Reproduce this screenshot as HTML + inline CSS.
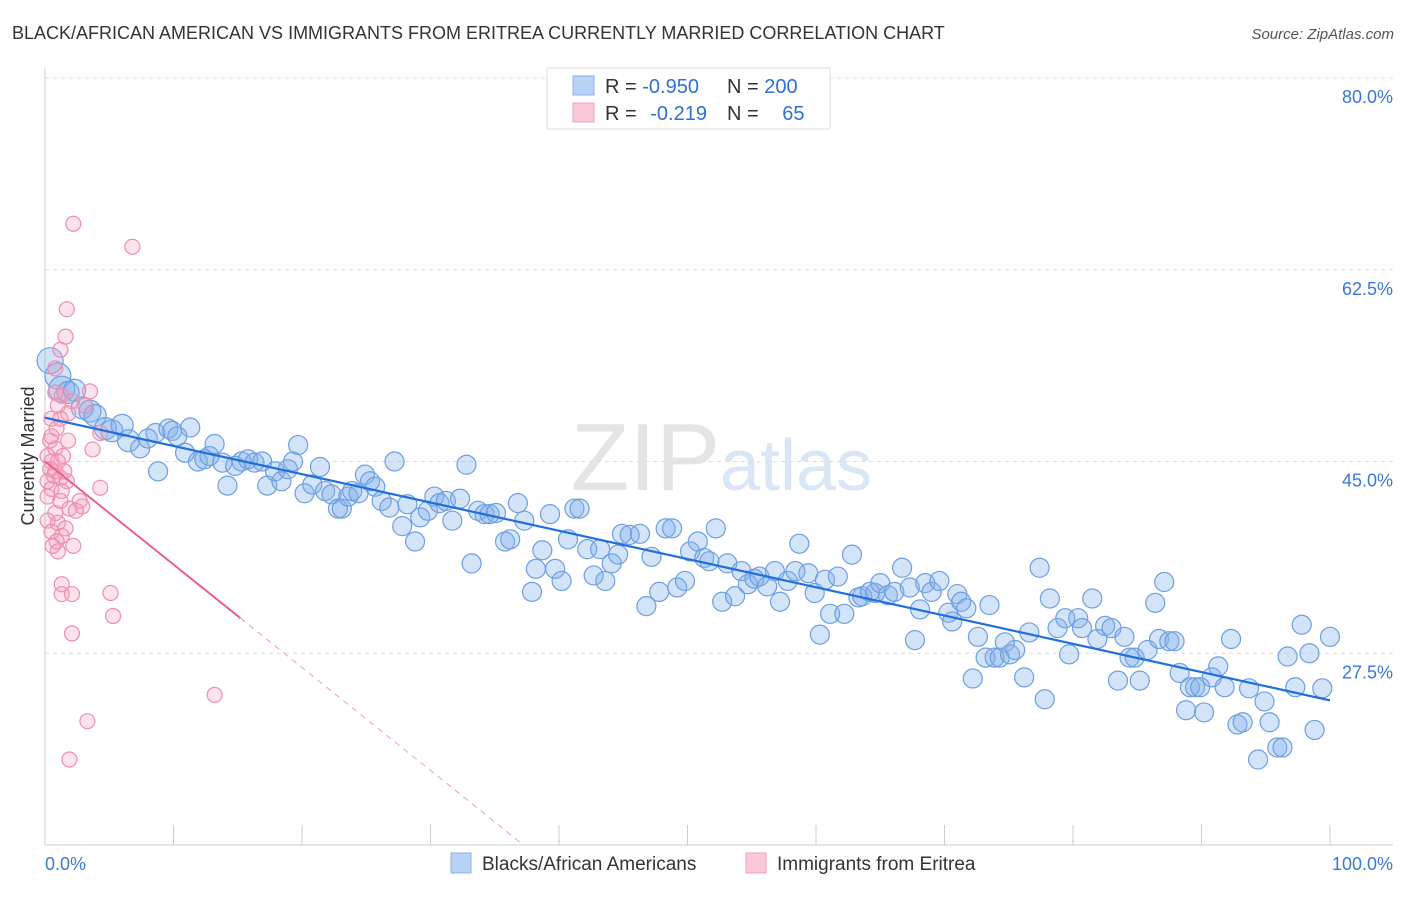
<!DOCTYPE html>
<html><head><meta charset="utf-8"><style>
body{margin:0;background:#fff;font-family:"Liberation Sans",sans-serif}
svg text{font-family:"Liberation Sans",sans-serif}
</style></head><body>
<svg id="chart" width="1406" height="892">
<text x="12" y="39" font-size="18" fill="#333">BLACK/AFRICAN AMERICAN VS IMMIGRANTS FROM ERITREA CURRENTLY MARRIED CORRELATION CHART</text>
<text x="1394" y="39" font-size="15" fill="#555" font-style="italic" text-anchor="end">Source: ZipAtlas.com</text>
<text x="720" y="490" font-size="96" fill="#e4e4e4" text-anchor="end" font-family="Liberation Serif">ZIP</text>
<text x="720" y="490" font-size="72" fill="#d8e6f6">atlas</text>
<text x="34" y="456" font-size="18" fill="#333" text-anchor="middle" transform="rotate(-90 34 456)">Currently Married</text>
<g id="grid"></g><g id="marks"></g>
<g>
<rect x="547" y="68" width="283" height="61" fill="#fff" stroke="#ddd"/>
<rect x="573" y="76" width="21" height="19" fill="#b8d3f5" stroke="#88b0e8"/>
<rect x="573" y="103" width="21" height="19" fill="#fbc8d8" stroke="#f0a0bb"/>
<text x="605" y="93" font-size="20" fill="#333">R = <tspan fill="#2f6fd6">-0.950</tspan></text>
<text x="727" y="93" font-size="20" fill="#333">N = <tspan fill="#2f6fd6">200</tspan></text>
<text x="605" y="120" font-size="20" fill="#333">R = <tspan fill="#2f6fd6" dx="8">-0.219</tspan></text>
<text x="727" y="120" font-size="20" fill="#333">N = <tspan fill="#2f6fd6" dx="18">65</tspan></text>
</g>
<g>
<rect x="451" y="853" width="20" height="20" fill="#b8d3f5" stroke="#88b0e8"/>
<text x="482" y="870" font-size="19" fill="#333">Blacks/African Americans</text>
<rect x="746" y="853" width="20" height="20" fill="#fbc8d8" stroke="#f0a0bb"/>
<text x="777" y="870" font-size="19" fill="#333">Immigrants from Eritrea</text>
</g>
</svg>
<script>
const yTicks=[80,62.5,45,27.5];
const yTickLabels=["80.0%","62.5%","45.0%","27.5%"];
const xTicks=[0,10,20,30,40,50,60,70,80,90,100];
const blueX=[0.4,1.0,1.3,1.8,2.3,2.9,3.5,3.9,4.7,5.2,6.0,6.5,7.4,8.0,8.6,8.8,9.6,9.9,10.3,11.3,10.9,11.9,12.4,12.8,13.2,13.8,14.2,14.8,15.3,15.8,16.3,16.9,17.3,17.9,18.4,18.9,19.3,19.7,20.2,20.8,21.4,21.8,22.3,22.8,23.1,23.6,23.9,24.4,24.9,25.3,25.7,26.2,26.8,27.2,27.8,28.2,28.8,29.2,29.8,30.3,30.7,31.2,31.7,32.3,32.8,33.2,33.7,34.2,34.6,35.1,35.8,36.2,36.8,37.3,37.9,38.2,38.7,39.3,39.7,40.2,40.7,41.2,41.6,42.2,42.7,43.2,43.6,44.1,44.6,44.9,45.5,46.3,46.8,47.2,47.8,48.3,48.8,49.2,49.8,50.2,50.8,51.3,51.7,52.2,52.7,53.1,53.7,54.2,54.7,55.2,55.6,56.2,56.8,57.2,57.8,58.4,58.7,59.4,59.9,60.3,60.7,61.1,61.7,62.2,62.8,63.3,63.6,64.2,64.6,65.0,65.6,66.1,66.7,67.3,67.7,68.1,68.5,69.0,69.6,70.3,70.6,71.0,71.3,71.7,72.2,72.6,73.2,73.5,73.9,74.3,74.7,75.1,75.5,76.2,76.6,77.4,77.8,78.2,78.8,79.4,79.7,80.4,80.7,81.5,81.9,82.5,83.0,83.5,84.0,84.4,84.8,85.2,85.8,86.4,86.7,87.1,87.5,88.3,88.8,89.1,89.5,90.2,90.8,91.3,91.8,92.3,92.8,93.2,93.7,94.4,94.9,95.3,95.9,96.3,96.7,97.3,97.8,98.4,98.8,99.4,100,89.9,87.9];
const blueY=[54.2,52.8,51.6,51.3,51.5,49.9,49.6,49.2,48.0,47.8,48.3,46.9,46.2,47.1,47.6,44.1,48.0,47.8,47.3,48.1,45.8,45.0,45.2,45.5,46.6,44.9,42.8,44.6,45.0,45.2,44.9,45.0,42.8,44.1,43.2,44.3,45.0,46.5,42.1,42.9,44.5,42.3,42.0,40.7,40.7,41.8,42.3,42.1,43.8,43.2,42.7,41.4,40.8,45.0,39.1,41.1,37.7,39.9,40.5,41.8,41.2,41.4,39.6,41.6,44.7,35.7,40.5,40.2,40.2,40.3,37.7,37.9,41.2,39.6,33.1,35.2,36.9,40.2,35.2,34.1,37.9,40.7,40.7,37.0,34.6,37.0,34.1,35.7,36.5,38.4,38.3,38.4,31.8,36.3,33.1,38.9,38.9,33.5,34.1,36.8,37.7,36.2,35.9,38.9,32.2,35.7,32.7,35.0,33.8,34.3,34.5,33.6,35.0,32.2,34.1,35.0,37.5,34.8,33.0,29.2,34.2,31.1,34.5,31.1,36.5,32.6,32.7,33.1,33.0,33.9,32.8,33.1,35.3,33.5,28.7,31.5,33.9,33.1,34.1,31.2,30.4,32.9,32.2,31.6,25.2,29.0,27.1,31.9,27.1,27.1,28.5,27.4,27.8,25.3,29.4,35.3,23.3,32.5,29.8,30.7,27.4,30.7,29.8,32.5,28.8,30.0,29.8,25.0,29.0,27.1,27.1,25.0,27.8,32.1,28.8,34.0,28.6,25.7,22.3,24.4,24.4,22.1,25.3,26.3,24.4,28.8,21.0,21.2,24.3,17.8,23.1,21.2,18.9,18.9,27.2,24.4,30.1,27.5,20.5,24.3,29.0,24.4,28.6];
const pinkX=[2.2,6.8,1.7,1.6,1.2,0.8,3.5,0.8,1.3,1.0,2.1,1.8,0.5,1.2,4.3,0.4,1.8,0.8,3.7,0.2,0.5,1.4,0.4,0.8,0.2,1.2,1.7,0.5,1.3,4.3,0.2,2.7,2.9,1.9,2.4,0.8,0.2,1.0,1.6,0.5,1.3,0.9,2.2,1.0,1.3,1.3,2.1,5.1,5.3,2.1,13.2,3.3,1.9,0.9,0.5,1.0,1.5,0.7,1.2,0.6,3.1];
const pinkY=[66.7,64.6,58.9,56.4,55.2,53.5,51.4,51.3,51.0,50.1,50.5,49.4,48.9,48.9,47.6,46.9,46.9,46.2,46.1,45.5,45.0,45.5,44.3,44.1,43.2,43.5,43.2,42.5,42.3,42.6,41.8,41.4,40.9,40.7,40.5,40.3,39.6,39.4,38.9,38.6,38.2,37.7,37.3,36.8,33.8,32.9,32.9,33.0,30.9,29.3,23.7,21.3,17.8,48.0,47.3,45.0,44.1,43.7,41.4,37.3,50.1];
const blueFit=[49.0,23.2];
const pinkFit=[45.0,-0.94];
const pinkSolidEnd=15.2;

const NS="http://www.w3.org/2000/svg";
const X0=45,X1=1330,Ybot=845,Ymin=10,Ymax=80,Ytop=78;
function xs(v){return X0+(v/100)*(X1-X0);}
function ys(v){return Ybot-(v-Ymin)/(Ymax-Ymin)*(Ybot-Ytop);}
function mk(tag,attrs,parent){const e=document.createElementNS(NS,tag);for(const k in attrs)e.setAttribute(k,attrs[k]);parent.appendChild(e);return e;}
const grid=document.getElementById('grid'),marks=document.getElementById('marks');
yTicks.forEach((t,i)=>{
  const l=mk('line',{x1:X0,x2:1393,y1:ys(t),y2:ys(t),stroke:'#ddd','stroke-dasharray':'4,4'},grid);
  
  
  const tx=mk('text',{x:1393,y:ys(t)+25,'font-size':18,fill:'#3a78d8','text-anchor':'end'},grid);
  tx.textContent=yTickLabels[i];
  
  
});
const ax=mk('line',{x1:X0,x2:X0,y1:68,y2:Ybot,stroke:'#ccc'},grid);


const bx=mk('line',{x1:X0,x2:1393,y1:Ybot,y2:Ybot,stroke:'#ccc'},grid);


xTicks.forEach(t=>{
  const l=mk('line',{x1:xs(t),x2:xs(t),y1:825,y2:Ybot,stroke:'#ccc'},grid);
  
  
});
const xl0=mk('text',{x:X0,y:870,'font-size':18,fill:'#3a78d8'},grid);xl0.textContent='0.0%';


const xl1=mk('text',{x:1393,y:870,'font-size':18,fill:'#3a78d8','text-anchor':'end'},grid);xl1.textContent='100.0%';



blueX.forEach((x,i)=>{
  const r=i<12?(i<3?13:11):9.5;
  const c=mk('circle',{cx:xs(x),cy:ys(blueY[i]),r:r,fill:'rgba(130,175,235,0.35)',stroke:'#6e9fe2','stroke-width':1.2},marks);
  
  
});
pinkX.forEach((x,i)=>{
  const c=mk('circle',{cx:xs(x),cy:ys(pinkY[i]),r:7.5,fill:'rgba(245,160,190,0.3)',stroke:'#ec8fb0','stroke-width':1.2},marks);
  
  
});
const bl=mk('line',{x1:xs(0),y1:ys(blueFit[0]),x2:xs(100),y2:ys(blueFit[1]),stroke:'#1f6fdc','stroke-width':2.2},marks);


const pEndY=pinkFit[0]+pinkFit[1]*pinkSolidEnd;
const pl=mk('line',{x1:xs(0),y1:ys(pinkFit[0]),x2:xs(pinkSolidEnd),y2:ys(pEndY),stroke:'#e8608e','stroke-width':2},marks);


const zx=(Ymin-pinkFit[0])/pinkFit[1];
const pd=mk('line',{x1:xs(pinkSolidEnd),y1:ys(pEndY),x2:xs(zx),y2:ys(Ymin),stroke:'#eaa0b8','stroke-width':1,'stroke-dasharray':'6,5'},marks);


</script>
</body></html>
